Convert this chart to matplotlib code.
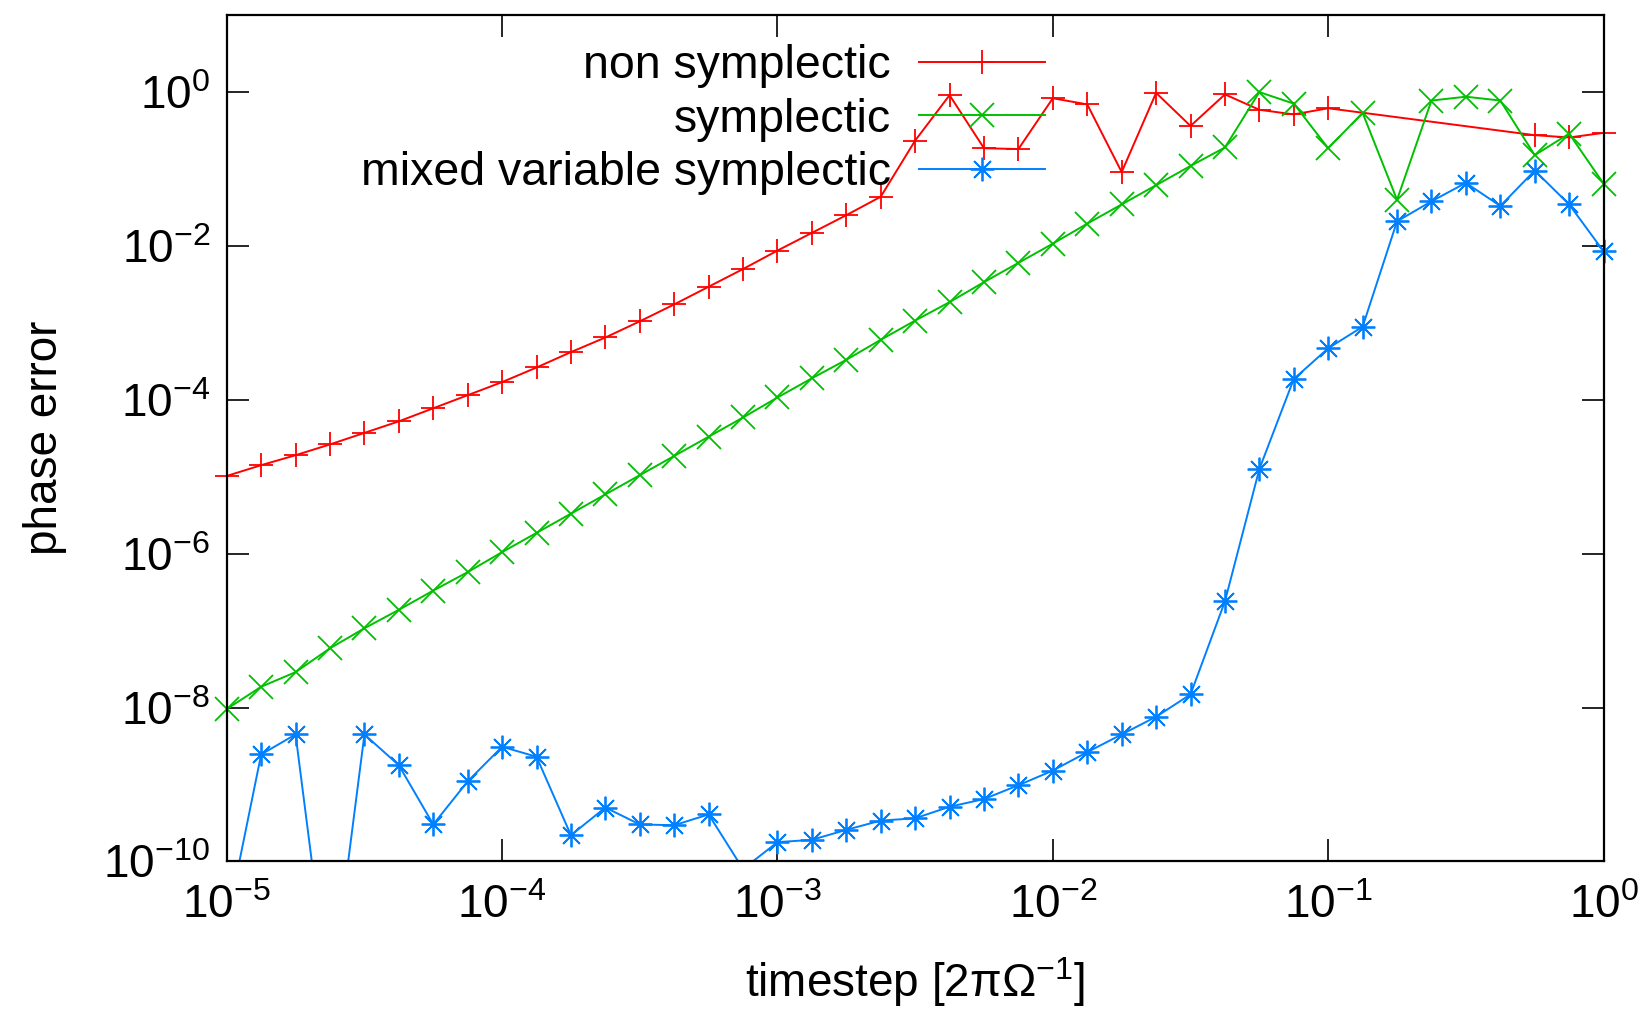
import numpy as np
import matplotlib
matplotlib.use("Agg")
import matplotlib.pyplot as plt
from matplotlib.ticker import LogFormatterMathtext, NullLocator

plt.rcParams['font.family'] = ['Liberation Sans', 'DejaVu Sans']
plt.rcParams['mathtext.fontset'] = 'custom'
plt.rcParams['mathtext.rm'] = 'Liberation Sans'
plt.rcParams['mathtext.it'] = 'Liberation Sans:italic'
plt.rcParams['mathtext.bf'] = 'Liberation Sans:bold'

# timesteps: 8 per decade from 1e-5 to 1
log_dt = [-5 + k / 8 for k in range(41)]

# log10 of the phase error (nan = no point)
log_non_symp = [-4.99, -4.85, -4.72, -4.58, -4.43, -4.28, -4.11, -3.94, -3.77, -3.58,
                -3.38, -3.19, -2.98, -2.76, -2.53, -2.30, -2.06, -1.83, -1.60, -1.36,
                -0.63, -0.04, -0.73, -0.74, -0.08, -0.16, -1.04, -0.01, -0.44, -0.03,
                -0.23, -0.29, -0.21, np.nan, np.nan, np.nan, np.nan, np.nan, -0.56, -0.59,
                -0.53]
log_symp = [-8.02, -7.73, -7.54, -7.23, -6.97, -6.73, -6.48, -6.24, -5.98, -5.73,
            -5.48, -5.23, -4.98, -4.73, -4.48, -4.23, -3.97, -3.72, -3.48, -3.22,
            -2.97, -2.73, -2.47, -2.22, -1.97, -1.71, -1.46, -1.21, -0.96, -0.72,
            0.00, -0.15, -0.73, -0.27, -1.40, -0.11, -0.06, -0.11, -0.82, -0.54,
            -1.19]
log_mixed = [-10.81, -8.61, -8.35, -11.85, -8.35, -8.75, -9.52, -8.96, -8.51, -8.64,
             -9.66, -9.30, -9.52, -9.53, -9.39, -10.10, -9.75, -9.72, -9.59, -9.47,
             -9.44, -9.29, -9.19, -9.01, -8.82, -8.58, -8.35, -8.12, -7.83, -6.62,
             -4.90, -3.73, -3.33, -3.05, -1.68, -1.42, -1.18, -1.48, -1.02, -1.46,
             -2.07]

labels = ['non symplectic', 'symplectic', 'mixed variable symplectic']
colors = ['#ff0000', '#00c000', '#0080ff']
markers = ['+', 'x', (8, 2, 0)]

fig = plt.figure(figsize=(16.43, 10.11), dpi=100)
ax = fig.add_axes([0.138, 0.148, 0.838, 0.837])
ax.set_xscale('log')
ax.set_yscale('log')
ax.set_xlim(1e-5, 1)
ax.set_ylim(1e-10, 10)

x = 10.0 ** np.array(log_dt)
for vals, lab, col, mk in zip([log_non_symp, log_symp, log_mixed], labels, colors, markers):
    v = np.array(vals)
    ok = ~np.isnan(v)
    y = 10.0 ** v[ok]
    xx = x[ok]
    ax.plot(xx, y, color=col, lw=1.4)
    # markers are not clipped at the frame, like gnuplot (only inside the y range)
    inr = y >= 1e-10
    ax.plot(xx[inr], y[inr], ls='none', marker=mk, ms=17, mew=1.3, color=col, clip_on=False)
    ax.plot([], [], color=col, lw=1.4, marker=mk, ms=17, mew=1.3, label=lab)

ax.set_xticks([1e-5, 1e-4, 1e-3, 1e-2, 1e-1, 1])
ax.set_yticks([1e-10, 1e-8, 1e-6, 1e-4, 1e-2, 1])
ax.xaxis.set_major_formatter(LogFormatterMathtext())
ax.yaxis.set_major_formatter(LogFormatterMathtext())
ax.xaxis.set_minor_locator(NullLocator())
ax.yaxis.set_minor_locator(NullLocator())
ax.tick_params(which='major', direction='in', length=16, width=1.2, labelsize=33,
               top=True, right=True, pad=12)
ax.tick_params(axis='x', pad=16)
for s in ax.spines.values():
    s.set_linewidth(1.6)

ax.set_xlabel(r'timestep [2πΩ$^{-1}$]', fontsize=33, labelpad=20)
ax.set_ylabel('phase error', fontsize=33, labelpad=26)

h, l = ax.get_legend_handles_labels()
n = len(labels)
ax.legend(h[-n:], l[-n:], loc='upper right', bbox_to_anchor=(0.594, 0.966),
          frameon=False, markerfirst=False, fontsize=33.5, handlelength=2.7,
          handletextpad=0.6, labelspacing=0.21, borderpad=0, borderaxespad=0)

fig.savefig('out.png', dpi=100)
